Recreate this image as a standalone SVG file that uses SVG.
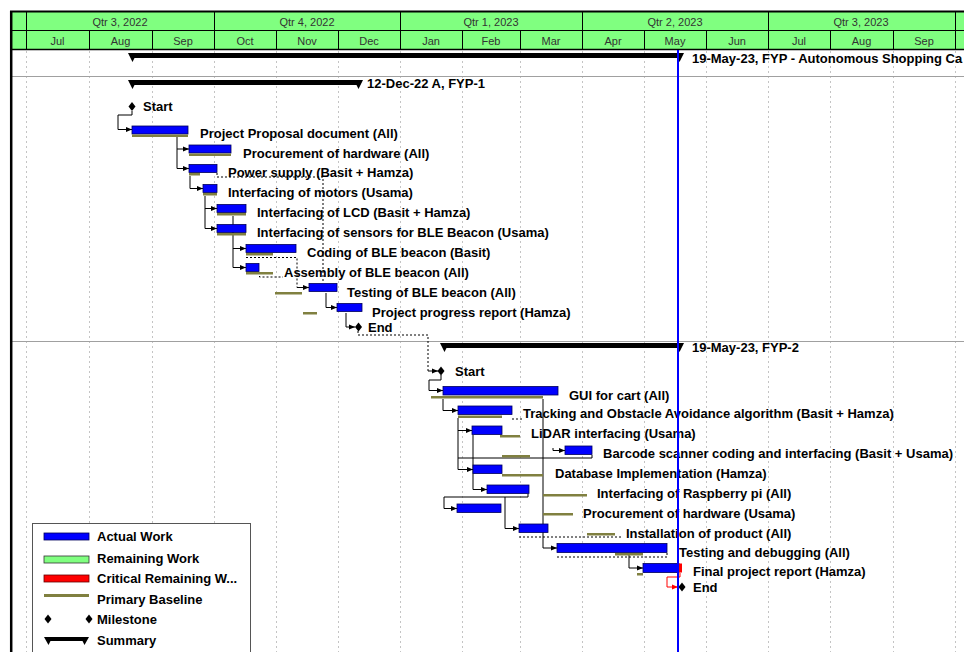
<svg xmlns="http://www.w3.org/2000/svg" xmlns:xlink="http://www.w3.org/1999/xlink" width="964" height="652" viewBox="0 0 964 652">
  <style>
    .t { font-family: "Liberation Sans", Arial, sans-serif; font-weight: bold; font-size: 13px; fill: #000; }
    .h { font-family: "Liberation Sans", Arial, sans-serif; font-size: 11px; fill: #333; text-anchor: middle; }
    .bar { fill: #0000ff; stroke: #00005a; stroke-width: 0.8; }
    .base { fill: #808040; }
    .grid { stroke: #c4c4c4; stroke-width: 1; stroke-dasharray: 2,3; }
    .sep { stroke: #a0a0a0; stroke-width: 1; }
    .hd { stroke: #000; stroke-width: 1; }
    .lnk { fill: none; stroke: #000; stroke-width: 1; }
    .dot { fill: none; stroke: #000; stroke-width: 1; stroke-dasharray: 2,2; }
    .crit { fill: none; stroke: #ff0000; stroke-width: 1; }
    .sum { fill: #000; }
  </style>
  <defs>
    <path id="ms" d="M0,-4.5 L3.5,0 L0,4.5 L-3.5,0 Z" fill="#000"/>
    <marker id="ar" markerWidth="6" markerHeight="6" refX="6" refY="3" orient="auto" markerUnits="userSpaceOnUse">
      <path d="M0,0.5 L6,3 L0,5.5 Z" fill="#000"/>
    </marker>
    <marker id="arr" markerWidth="6" markerHeight="6" refX="6" refY="3" orient="auto" markerUnits="userSpaceOnUse">
      <path d="M0,0.5 L6,3 L0,5.5 Z" fill="#ff0000"/>
    </marker>
  </defs>

  <rect x="0" y="0" width="964" height="652" fill="#fff"/>

  <!-- timescale header -->
  <g id="timescale">
    <rect x="10" y="11" width="954" height="38" fill="#80ff80"/>
    <line x1="10" y1="11.5" x2="964" y2="11.5" stroke="#000" stroke-width="2"/>
    <line x1="10" y1="30.5" x2="964" y2="30.5" class="hd"/>
    <line x1="10" y1="49.5" x2="964" y2="49.5" stroke="#000" stroke-width="1.5"/>
    <g class="hd">
      <line x1="26.5" y1="11" x2="26.5" y2="49"/>
      <line x1="214.5" y1="11" x2="214.5" y2="49"/>
      <line x1="400.5" y1="11" x2="400.5" y2="49"/>
      <line x1="582.5" y1="11" x2="582.5" y2="49"/>
      <line x1="768.5" y1="11" x2="768.5" y2="49"/>
      <line x1="955.5" y1="11" x2="955.5" y2="49"/>
      <line x1="89.5" y1="30" x2="89.5" y2="49"/>
      <line x1="152.5" y1="30" x2="152.5" y2="49"/>
      <line x1="276.5" y1="30" x2="276.5" y2="49"/>
      <line x1="338.5" y1="30" x2="338.5" y2="49"/>
      <line x1="462.5" y1="30" x2="462.5" y2="49"/>
      <line x1="520.5" y1="30" x2="520.5" y2="49"/>
      <line x1="644.5" y1="30" x2="644.5" y2="49"/>
      <line x1="706.5" y1="30" x2="706.5" y2="49"/>
      <line x1="830.5" y1="30" x2="830.5" y2="49"/>
      <line x1="893.5" y1="30" x2="893.5" y2="49"/>
    </g>
    <text class="h" x="120" y="25.5">Qtr 3, 2022</text>
    <text class="h" x="307" y="25.5">Qtr 4, 2022</text>
    <text class="h" x="491" y="25.5">Qtr 1, 2023</text>
    <text class="h" x="675" y="25.5">Qtr 2, 2023</text>
    <text class="h" x="861" y="25.5">Qtr 3, 2023</text>
    <text class="h" x="57.5" y="44.5">Jul</text>
    <text class="h" x="120.5" y="44.5">Aug</text>
    <text class="h" x="183" y="44.5">Sep</text>
    <text class="h" x="245" y="44.5">Oct</text>
    <text class="h" x="307" y="44.5">Nov</text>
    <text class="h" x="369" y="44.5">Dec</text>
    <text class="h" x="431" y="44.5">Jan</text>
    <text class="h" x="491" y="44.5">Feb</text>
    <text class="h" x="551" y="44.5">Mar</text>
    <text class="h" x="613" y="44.5">Apr</text>
    <text class="h" x="675" y="44.5">May</text>
    <text class="h" x="737" y="44.5">Jun</text>
    <text class="h" x="799" y="44.5">Jul</text>
    <text class="h" x="861.5" y="44.5">Aug</text>
    <text class="h" x="924" y="44.5">Sep</text>
  </g>

  <!-- month gridlines and band separators -->
  <g id="grid">
    <line class="grid" x1="26.5" y1="51" x2="26.5" y2="652"/>
    <line class="grid" x1="89.5" y1="51" x2="89.5" y2="652"/>
    <line class="grid" x1="152.5" y1="51" x2="152.5" y2="652"/>
    <line class="grid" x1="214.5" y1="51" x2="214.5" y2="652"/>
    <line class="grid" x1="276.5" y1="51" x2="276.5" y2="652"/>
    <line class="grid" x1="338.5" y1="51" x2="338.5" y2="652"/>
    <line class="grid" x1="400.5" y1="51" x2="400.5" y2="652"/>
    <line class="grid" x1="462.5" y1="51" x2="462.5" y2="652"/>
    <line class="grid" x1="520.5" y1="51" x2="520.5" y2="652"/>
    <line class="grid" x1="582.5" y1="51" x2="582.5" y2="652"/>
    <line class="grid" x1="644.5" y1="51" x2="644.5" y2="652"/>
    <line class="grid" x1="706.5" y1="51" x2="706.5" y2="652"/>
    <line class="grid" x1="768.5" y1="51" x2="768.5" y2="652"/>
    <line class="grid" x1="830.5" y1="51" x2="830.5" y2="652"/>
    <line class="grid" x1="893.5" y1="51" x2="893.5" y2="652"/>
    <line class="grid" x1="955.5" y1="51" x2="955.5" y2="652"/>
    <line class="sep" x1="12" y1="76.5" x2="964" y2="76.5"/>
    <line class="sep" x1="12" y1="341.5" x2="964" y2="341.5"/>
  </g>
  <line x1="11.2" y1="11" x2="11.2" y2="652" stroke="#000" stroke-width="2.5"/>

  <!-- summary bars -->
  <g id="sum-project">
    <path class="sum" d="M128,53 H684 L679.5,62 L677.5,58 H134.5 L132.5,62 Z"/>
    <text class="t" x="692" y="62.5">19-May-23, FYP - Autonomous Shopping Ca</text>
  </g>
  <g id="sum-fyp1">
    <path class="sum" d="M128,80 H363 L358.5,89 L356.5,85 H134.5 L132.5,89 Z"/>
    <text class="t" x="367" y="87.5">12-Dec-22 A, FYP-1</text>
  </g>
  <g id="sum-fyp2">
    <path class="sum" d="M440,343 H684 L679.5,352 L677.5,348 H446.5 L444.5,352 Z"/>
    <text class="t" x="692" y="351.5">19-May-23, FYP-2</text>
  </g>

  <!-- relationship lines -->
  <g id="links">
    <path class="lnk" d="M132,111 V115 H118 V129.5 H132" marker-end="url(#ar)"/>
    <path class="lnk" d="M177,137 V168.5 H189" marker-end="url(#ar)"/>
    <path class="lnk" d="M177,149 H189" marker-end="url(#ar)"/>
    <path class="lnk" d="M190,176 V188.5 H203" marker-end="url(#ar)"/>
    <path class="lnk" d="M205,196 V228.5 H217" marker-end="url(#ar)"/>
    <path class="lnk" d="M205,208.5 H217" marker-end="url(#ar)"/>
    <path class="lnk" d="M233,216 V267.5 H246" marker-end="url(#ar)"/>
    <path class="lnk" d="M233,248.5 H246" marker-end="url(#ar)"/>
    <path class="dot" d="M217,173 V177 H323 V283"/>
    <path class="dot" d="M246,257.5 H297 V287.5"/>
    <path class="lnk" d="M297,287.5 H309" marker-end="url(#ar)"/>
    <path class="dot" d="M259.5,272 V277 H283"/>
    <path class="lnk" d="M326,293 V307.5 H337" marker-end="url(#ar)"/>
    <path class="lnk" d="M346,313 V327 H355" marker-end="url(#ar)"/>
    <path class="dot" d="M358,331 V335 H428 V371"/>
    <path class="lnk" d="M428,371 H438" marker-end="url(#ar)"/>
    <path class="lnk" d="M441,375 V380 H429 V390.5 H443" marker-end="url(#ar)"/>
    <path class="lnk" d="M443,399 V410.5 H458" marker-end="url(#ar)"/>
    <path class="dot" d="M512,419 H522"/>
    <path class="lnk" d="M458,418 V469.5 H473" marker-end="url(#ar)"/>
    <path class="lnk" d="M458,430.5 H472" marker-end="url(#ar)"/>
    <path class="lnk" d="M458,458 H592 V455"/>
    <path class="lnk" d="M553,448 V450.5 H565" marker-end="url(#ar)"/>
    <path class="lnk" d="M473,435 V489.5 H487" marker-end="url(#ar)"/>
    <path class="lnk" d="M543,399 V548 H557" marker-end="url(#ar)"/>
    <path class="lnk" d="M528,494 V497 H444 V508.5 H457" marker-end="url(#ar)"/>
    <path class="lnk" d="M505,497 V528.5 H519" marker-end="url(#ar)"/>
    <path class="dot" d="M519,537 H623"/>
    <path class="dot" d="M557,557 H667 V553"/>
    <path class="lnk" d="M629,553 V568 H643" marker-end="url(#ar)"/>
    <path class="crit" d="M680,573 V577 H667 V587 H678" marker-end="url(#arr)"/>
  </g>

  <!-- FYP-1 activities -->
  <g id="fyp1-start">
    <use xlink:href="#ms" x="132" y="106.5"/>
    <text class="t" x="143" y="111">Start</text>
  </g>
  <g id="fyp1-proposal">
    <rect class="bar" x="132" y="126" width="56" height="8"/>
    <rect class="base" x="132" y="134.5" width="56" height="2.5"/>
    <text class="t" x="200" y="137.5">Project Proposal document (All)</text>
  </g>
  <g id="fyp1-procurement">
    <rect class="bar" x="189" y="145" width="42" height="8"/>
    <rect class="base" x="189" y="153.5" width="42" height="2.5"/>
    <text class="t" x="243" y="157.5">Procurement of hardware (All)</text>
  </g>
  <g id="fyp1-power">
    <rect class="bar" x="189" y="164.5" width="28" height="8"/>
    <rect class="base" x="189" y="173" width="11" height="2.5"/>
    <text class="t" x="228" y="176.5">Power supply (Basit + Hamza)</text>
  </g>
  <g id="fyp1-motors">
    <rect class="bar" x="203" y="184.5" width="14" height="8"/>
    <rect class="base" x="203" y="193" width="14" height="2.5"/>
    <text class="t" x="228" y="197">Interfacing of motors (Usama)</text>
  </g>
  <g id="fyp1-lcd">
    <rect class="bar" x="217" y="204.5" width="29" height="8"/>
    <rect class="base" x="217" y="213" width="29" height="2.5"/>
    <text class="t" x="257" y="217">Interfacing of LCD (Basit + Hamza)</text>
  </g>
  <g id="fyp1-sensors">
    <rect class="bar" x="217" y="224.5" width="29" height="8"/>
    <rect class="base" x="217" y="233" width="29" height="2.5"/>
    <text class="t" x="257" y="237">Interfacing of sensors for BLE Beacon (Usama)</text>
  </g>
  <g id="fyp1-coding">
    <rect class="bar" x="246" y="244.5" width="50" height="8"/>
    <rect class="base" x="246" y="253" width="27" height="2.5"/>
    <text class="t" x="307" y="257">Coding of BLE beacon (Basit)</text>
  </g>
  <g id="fyp1-assembly">
    <rect class="bar" x="246" y="263.5" width="13" height="8"/>
    <rect class="base" x="246" y="272" width="27" height="2.5"/>
    <text class="t" x="284" y="277">Assembly of BLE beacon (All)</text>
  </g>
  <g id="fyp1-testing">
    <rect class="bar" x="309" y="283.5" width="28" height="8"/>
    <rect class="base" x="275" y="292" width="27" height="2.5"/>
    <text class="t" x="347" y="296.5">Testing of BLE beacon (All)</text>
  </g>
  <g id="fyp1-progress">
    <rect class="bar" x="337" y="303.5" width="25" height="8"/>
    <rect class="base" x="303" y="312" width="14" height="2.5"/>
    <text class="t" x="372" y="316.5">Project progress report (Hamza)</text>
  </g>
  <g id="fyp1-end">
    <use xlink:href="#ms" x="358.5" y="327"/>
    <text class="t" x="368" y="331.5">End</text>
  </g>

  <!-- FYP-2 activities -->
  <g id="fyp2-start">
    <use xlink:href="#ms" x="441" y="371"/>
    <text class="t" x="455" y="375.5">Start</text>
  </g>
  <g id="fyp2-gui">
    <rect class="bar" x="443" y="386.5" width="115" height="8.5"/>
    <rect class="base" x="431" y="396" width="112" height="2.5"/>
    <text class="t" x="569" y="399.5">GUI for cart (All)</text>
  </g>
  <g id="fyp2-tracking">
    <rect class="bar" x="458" y="406" width="54" height="8.5"/>
    <rect class="base" x="458" y="415.5" width="44" height="2.5"/>
    <text class="t" x="523" y="418">Tracking and Obstacle Avoidance algorithm (Basit + Hamza)</text>
  </g>
  <g id="fyp2-lidar">
    <rect class="bar" x="472" y="426" width="30" height="8.5"/>
    <rect class="base" x="500" y="435" width="20" height="2.5"/>
    <text class="t" x="531" y="437.5">LiDAR interfacing (Usama)</text>
  </g>
  <g id="fyp2-barcode">
    <rect class="bar" x="565" y="446" width="27" height="8.5"/>
    <rect class="base" x="502" y="455" width="28" height="2.5"/>
    <text class="t" x="603" y="457.5">Barcode scanner coding and interfacing (Basit + Usama)</text>
  </g>
  <g id="fyp2-database">
    <rect class="bar" x="473" y="465" width="29" height="8.5"/>
    <rect class="base" x="502" y="474" width="41" height="2.5"/>
    <text class="t" x="555" y="477.5">Database Implementation (Hamza)</text>
  </g>
  <g id="fyp2-raspberry">
    <rect class="bar" x="487" y="485" width="42" height="8.5"/>
    <rect class="base" x="543" y="494" width="44" height="2.5"/>
    <text class="t" x="597" y="497.5">Interfacing of Raspberry pi (All)</text>
  </g>
  <g id="fyp2-procurement">
    <rect class="bar" x="457" y="504" width="44" height="8.5"/>
    <rect class="base" x="543" y="513" width="30" height="2.5"/>
    <text class="t" x="583" y="517.5">Procurement of hardware (Usama)</text>
  </g>
  <g id="fyp2-installation">
    <rect class="bar" x="519" y="524" width="29" height="8.5"/>
    <rect class="base" x="587" y="533" width="28" height="2.5"/>
    <text class="t" x="626" y="537.5">Installation of product (All)</text>
  </g>
  <g id="fyp2-testing">
    <rect class="bar" x="557" y="543.5" width="110" height="9"/>
    <rect class="base" x="615" y="553" width="28" height="2.5"/>
    <text class="t" x="679" y="556.5">Testing and debugging (All)</text>
  </g>
  <g id="fyp2-final">
    <rect class="bar" x="643" y="563.5" width="36" height="9"/>
    <rect x="677" y="563.5" width="5" height="9" fill="#ff0000"/>
    <rect class="base" x="637" y="573" width="6" height="2.5"/>
    <text class="t" x="693" y="575.5">Final project report (Hamza)</text>
  </g>
  <g id="fyp2-end">
    <use xlink:href="#ms" x="682" y="587"/>
    <text class="t" x="693" y="591.5">End</text>
  </g>

  <!-- data date -->
  <line id="data-date" x1="678" y1="50" x2="678" y2="652" stroke="#0000ff" stroke-width="2"/>

  <!-- legend -->
  <g id="legend">
    <rect x="32.5" y="523.5" width="218" height="140" fill="#fff" stroke="#555" stroke-width="1"/>
    <rect class="bar" x="44" y="533" width="45" height="7"/>
    <text class="t" x="97" y="541">Actual Work</text>
    <rect x="44" y="556" width="45" height="7" fill="#80ff80" stroke="#333" stroke-width="0.8"/>
    <text class="t" x="97" y="562.5">Remaining Work</text>
    <rect x="44" y="575" width="45" height="7" fill="#ff0000" stroke="#600" stroke-width="0.8"/>
    <text class="t" x="97" y="582.5">Critical Remaining W...</text>
    <rect class="base" x="44" y="594" width="45" height="3"/>
    <text class="t" x="97" y="604">Primary Baseline</text>
    <use xlink:href="#ms" x="48" y="619"/>
    <use xlink:href="#ms" x="89" y="619"/>
    <text class="t" x="97" y="623.5">Milestone</text>
    <path class="sum" d="M44,637 H89 L84.5,645 L82.5,641 H50.5 L48.5,645 Z"/>
    <text class="t" x="97" y="645">Summary</text>
  </g>
</svg>
